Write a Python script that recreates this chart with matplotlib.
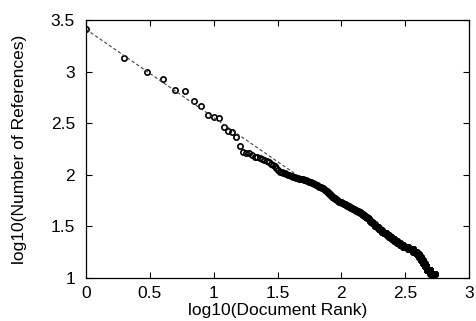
import numpy as np
import matplotlib
matplotlib.use("Agg")
import matplotlib.pyplot as plt

plt.rcParams['font.family'] = ['Liberation Sans', 'DejaVu Sans']

# reference counts for the top-ranked documents (rank 1..60)
top_counts = [2570, 1365, 984, 847, 660, 655, 515, 461, 377, 366,
              355, 292, 265, 258, 234, 191, 165, 163, 161, 155,
              150, 148, 145, 142, 140, 136, 132, 128, 124, 121,
              117, 112, 107, 106, 104, 103, 101, 100, 99, 98,
              97, 96, 95, 94, 93, 93, 92, 92, 91, 91,
              90, 89, 89, 88, 87, 86, 86, 85, 84, 83]

# lower ranks: reference count and how many documents share it
tail_counts = [82, 81, 80, 79, 78, 77, 76, 75, 74, 73, 72, 71, 70, 69, 68,
               67, 66, 65, 64, 63, 62, 61, 60, 59, 58, 57, 56, 55, 54, 53,
               52, 51, 50, 49, 48, 47, 46, 45, 44, 43, 42, 41, 40, 39, 38,
               37, 36, 35, 34, 33, 32, 31, 30, 29, 28, 27, 26, 25, 24, 23,
               22, 21, 20, 19, 18, 17, 16, 15, 14, 13, 12, 11]
tail_docs = [1, 1, 2, 1, 1, 2, 1, 1, 2, 1, 1, 1, 1, 1, 1,
             1, 1, 1, 1, 1, 1, 2, 1, 2, 2, 2, 2, 2, 3, 3,
             4, 3, 4, 3, 5, 4, 4, 5, 5, 3, 4, 3, 4, 4, 5,
             3, 4, 4, 4, 4, 6, 7, 6, 6, 6, 12, 10, 12, 12, 14,
             15, 16, 29, 32, 23, 16, 15, 15, 15, 15, 34, 42]

# fitted power law line (intercept, slope, end of line)
fit_a = 3.41
fit_b = -0.855
fit_end = 1.65

counts = np.array(top_counts + list(np.repeat(tail_counts, tail_docs)), dtype=float)
rank = np.arange(1, len(counts) + 1)
x = np.log10(rank)
y = np.log10(counts)

fig = plt.figure(figsize=(4.76, 3.21), dpi=100)
ax = fig.add_axes([0.1807, 0.134, 0.8046, 0.8037])

ax.plot(x, y, linestyle='none', marker='o', markersize=3.8,
        markerfacecolor='none', markeredgecolor='black', markeredgewidth=1.2)
xf = np.array([0, fit_end])
ax.plot(xf, fit_a + fit_b * xf, linestyle=(0, (3, 2)), color='#444444', linewidth=0.8)

ax.set_xlim(0, 3)
ax.set_ylim(1, 3.5)
ax.set_xticks([0, 0.5, 1, 1.5, 2, 2.5, 3])
ax.set_xticklabels(['0', '0.5', '1', '1.5', '2', '2.5', '3'])
ax.set_yticks([1, 1.5, 2, 2.5, 3, 3.5])
ax.set_yticklabels(['1', '1.5', '2', '2.5', '3', '3.5'])
ax.tick_params(direction='in', top=True, right=True, length=4, width=0.8,
               labelsize=12.5, pad=6)
ax.tick_params(axis='y', pad=8)
for s in ax.spines.values():
    s.set_linewidth(0.9)

ax.set_xlabel('log10(Document Rank)', fontsize=12.5, labelpad=1)
ax.set_ylabel('log10(Number of References)', fontsize=12.5, labelpad=17)

fig.savefig('out.png', dpi=100)
